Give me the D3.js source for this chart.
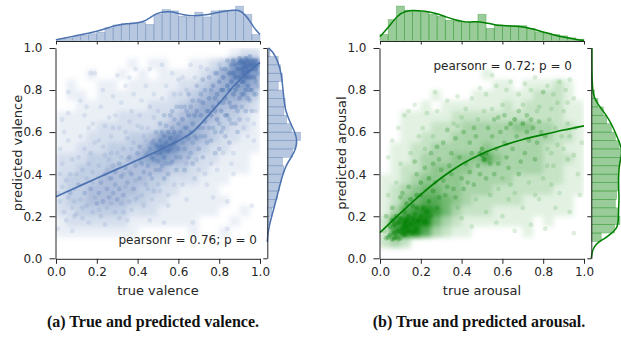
<!DOCTYPE html>
<html><head><meta charset="utf-8">
<script src="https://cdn.jsdelivr.net/npm/d3@7"></script>
<style>body{margin:0;background:#fff}svg{display:block}</style>
</head><body><svg id="c" width="621" height="339"></svg>
<script>
const tickValues=[0,0.2,0.4,0.6,0.8,1.0];
const tickLabels=["0.0","0.2","0.4","0.6","0.8","1.0"];

// ---------- valence ----------
// estimated point density (rows: predicted 1.0 -> 0.0, cols: true 0.0 -> 1.0), 0..9
const valenceGrid=[
"00000000000000000122","00000001011001123698","00010010101111235786","01001101111122345665",
"01101111111223455553","00111111122234554432","11111122222345543321","11112222223455433221",
"11122223346765432211","11222333468754322111","22233334566543221110","22333444444332211110",
"23334444433222111000","23344444332211110000","23344443322111111000","22333332221111110010",
"12222221111111000100","11111111000001001000","00000000000000000000","00000000000000000000"];
// [true, predicted, overlapping samples]
const valencePoints=[
[0.01,0.14,1],[0.02,0.27,1],[0.03,0.34,1],[0.04,0.22,1],[0.01,0.31,1],[0.03,0.45,1],[0.02,0.52,1],[0.05,0.18,1],[0.06,0.29,1],[0.07,0.40,1],[0.08,0.24,1],[0.09,0.33,1],[0.05,0.37,1],[0.08,0.47,1],[0.06,0.56,1],[0.09,0.20,1],[0.03,0.66,1],[0.06,0.69,1],[0.06,0.79,1],[0.08,0.13,1],[0.04,0.60,1],[0.07,0.31,2],[0.09,0.27,1],[0.02,0.40,1],
[0.10,0.21,1],[0.11,0.35,2],[0.12,0.75,1],[0.12,0.28,1],[0.13,0.42,1],[0.13,0.19,1],[0.14,0.31,2],[0.14,0.52,1],[0.15,0.25,1],[0.15,0.38,1],[0.16,0.45,1],[0.16,0.62,1],[0.17,0.88,1],[0.17,0.33,2],[0.18,0.22,1],[0.18,0.41,1],[0.19,0.88,1],[0.19,0.29,1],[0.19,0.55,1],[0.11,0.48,1],[0.12,0.58,1],[0.14,0.68,1],[0.16,0.17,1],[0.17,0.50,1],[0.18,0.36,1],[0.20,0.26,2],[0.13,0.24,1],[0.15,0.72,1],[0.18,0.64,1],[0.10,0.40,1],
[0.21,0.31,2],[0.21,0.44,1],[0.22,0.20,1],[0.22,0.36,2],[0.23,0.27,2],[0.23,0.53,1],[0.24,0.40,2],[0.24,0.63,1],[0.25,0.33,2],[0.25,0.24,1],[0.26,0.47,1],[0.26,0.29,2],[0.27,0.38,2],[0.27,0.58,1],[0.28,0.31,2],[0.28,0.44,1],[0.29,0.22,1],[0.29,0.35,2],[0.30,0.87,1],[0.30,0.50,1],[0.22,0.72,1],[0.24,0.16,1],[0.26,0.67,1],[0.28,0.77,1],[0.21,0.56,1],[0.25,0.42,1],[0.27,0.26,1],[0.29,0.41,2],[0.23,0.80,1],[0.26,0.38,1],[0.28,0.62,1],[0.30,0.28,2],[0.24,0.49,1],[0.21,0.23,1],[0.27,0.50,1],[0.29,0.68,1],
[0.31,0.33,2],[0.31,0.45,2],[0.32,0.26,1],[0.32,0.39,2],[0.33,0.52,1],[0.33,0.30,2],[0.34,0.43,2],[0.34,0.60,1],[0.35,0.18,1],[0.35,0.36,2],[0.36,0.48,2],[0.36,0.27,1],[0.37,0.40,2],[0.37,0.70,1],[0.38,0.33,2],[0.38,0.55,1],[0.39,0.90,1],[0.39,0.44,2],[0.40,0.29,1],[0.40,0.50,2],[0.31,0.62,1],[0.32,0.74,1],[0.33,0.22,1],[0.34,0.82,1],[0.35,0.57,1],[0.36,0.65,1],[0.37,0.23,1],[0.38,0.78,1],[0.39,0.37,1],[0.40,0.63,1],[0.32,0.48,1],[0.34,0.34,1],[0.36,0.41,1],[0.38,0.46,1],[0.33,0.40,1],[0.35,0.47,1],[0.37,0.52,1],[0.39,0.28,1],[0.31,0.19,1],[0.36,0.86,1],
[0.41,0.38,2],[0.41,0.53,2],[0.42,0.45,2],[0.42,0.30,1],[0.43,0.58,1],[0.43,0.41,2],[0.44,0.49,2],[0.44,0.35,1],[0.45,0.62,1],[0.45,0.44,2],[0.46,0.52,2],[0.46,0.90,1],[0.46,0.18,1],[0.47,0.38,2],[0.47,0.48,3],[0.48,0.56,2],[0.48,0.67,1],[0.49,0.50,3],[0.49,0.42,2],[0.50,0.53,3],[0.50,0.46,2],[0.41,0.68,1],[0.42,0.75,1],[0.43,0.25,1],[0.44,0.82,1],[0.45,0.33,1],[0.46,0.72,1],[0.47,0.28,1],[0.48,0.78,1],[0.49,0.60,2],[0.50,0.35,1],[0.42,0.62,1],[0.44,0.56,1],[0.46,0.40,2],[0.48,0.47,2],[0.49,0.54,3],[0.47,0.55,2],[0.45,0.50,2],[0.43,0.51,1],[0.50,0.70,1],[0.48,0.32,1],[0.41,0.46,1],
[0.51,0.50,4],[0.51,0.56,3],[0.52,0.53,4],[0.52,0.92,1],[0.52,0.44,2],[0.53,0.58,3],[0.53,0.17,1],[0.53,0.48,3],[0.54,0.55,4],[0.54,0.63,2],[0.55,0.51,4],[0.55,0.40,2],[0.56,0.57,4],[0.56,0.68,2],[0.57,0.54,3],[0.57,0.46,2],[0.58,0.60,3],[0.58,0.35,1],[0.59,0.56,3],[0.59,0.72,2],[0.60,0.52,2],[0.60,0.64,2],[0.51,0.64,2],[0.52,0.76,1],[0.53,0.38,2],[0.54,0.82,1],[0.55,0.30,1],[0.56,0.45,2],[0.57,0.62,2],[0.58,0.78,1],[0.59,0.42,2],[0.60,0.85,1],[0.51,0.42,2],[0.53,0.68,2],[0.55,0.60,3],[0.57,0.70,2],[0.59,0.48,2],[0.52,0.60,2],[0.54,0.45,2],[0.56,0.52,3],[0.58,0.55,3],[0.60,0.58,2],[0.55,0.25,1],[0.57,0.88,1],[0.51,0.32,1],[0.58,0.66,2],
[0.61,0.60,3],[0.61,0.48,2],[0.62,0.66,3],[0.62,0.55,2],[0.63,0.72,2],[0.63,0.42,2],[0.64,0.62,3],[0.64,0.80,1],[0.65,0.57,2],[0.65,0.68,3],[0.66,0.92,1],[0.66,0.50,2],[0.67,0.17,1],[0.67,0.64,3],[0.67,0.75,2],[0.68,0.58,2],[0.68,0.38,1],[0.69,0.70,3],[0.69,0.82,2],[0.70,0.62,2],[0.70,0.52,2],[0.61,0.72,2],[0.62,0.35,1],[0.63,0.52,2],[0.64,0.45,1],[0.65,0.78,2],[0.66,0.60,3],[0.67,0.45,2],[0.68,0.68,3],[0.69,0.57,2],[0.70,0.75,2],[0.62,0.86,1],[0.64,0.28,1],[0.66,0.72,2],[0.68,0.86,1],[0.70,0.42,1],[0.63,0.62,2],[0.65,0.48,2],[0.69,0.47,1],[0.61,0.78,1],[0.67,0.55,2],[0.64,0.70,2],
[0.71,0.91,1],[0.71,0.68,3],[0.71,0.58,2],[0.72,0.74,3],[0.72,0.48,2],[0.73,0.65,3],[0.73,0.80,2],[0.74,0.70,3],[0.74,0.55,2],[0.75,0.76,3],[0.75,0.62,2],[0.75,0.86,2],[0.76,0.68,3],[0.76,0.45,1],[0.77,0.72,3],[0.77,0.29,1],[0.77,0.82,3],[0.78,0.60,2],[0.78,0.76,3],[0.79,0.88,2],[0.79,0.66,3],[0.80,0.74,3],[0.80,0.52,2],[0.72,0.85,2],[0.73,0.40,1],[0.74,0.90,1],[0.76,0.56,2],[0.77,0.62,2],[0.78,0.50,2],[0.79,0.78,3],[0.80,0.84,3],[0.71,0.78,2],[0.73,0.58,2],[0.75,0.70,3],[0.78,0.70,3],[0.80,0.64,2],[0.72,0.62,2],[0.76,0.80,2],[0.79,0.42,1],[0.74,0.35,1],[0.78,0.88,2],[0.80,0.92,1],
[0.81,0.80,4],[0.81,0.70,3],[0.82,0.86,4],[0.82,0.62,2],[0.83,0.76,4],[0.83,0.90,3],[0.84,0.14,1],[0.84,0.27,1],[0.84,0.82,5],[0.84,0.68,3],[0.85,0.88,5],[0.85,0.74,3],[0.85,0.55,2],[0.86,0.84,5],[0.86,0.92,3],[0.86,0.64,2],[0.87,0.40,1],[0.87,0.78,4],[0.87,0.88,5],[0.88,0.86,6],[0.88,0.72,3],[0.88,0.92,4],[0.89,0.82,5],[0.89,0.60,2],[0.89,0.90,6],[0.90,0.86,6],[0.90,0.76,3],[0.81,0.90,2],[0.82,0.74,3],[0.83,0.58,2],[0.85,0.80,4],[0.86,0.72,3],[0.87,0.50,1],[0.88,0.80,4],[0.89,0.70,2],[0.90,0.66,2],[0.83,0.68,3],[0.82,0.50,1],[0.86,0.45,1],[0.84,0.94,2],[0.87,0.94,3],[0.81,0.60,2],[0.88,0.64,2],[0.90,0.93,6],[0.85,0.66,2],[0.82,0.80,4],
[0.91,0.90,7],[0.91,0.84,5],[0.91,0.94,5],[0.92,0.88,7],[0.92,0.78,3],[0.92,0.93,7],[0.93,0.86,6],[0.93,0.91,8],[0.93,0.70,2],[0.94,0.89,8],[0.94,0.94,6],[0.94,0.82,4],[0.95,0.92,8],[0.95,0.86,5],[0.95,0.75,2],[0.96,0.90,7],[0.96,0.94,5],[0.96,0.25,1],[0.96,0.80,3],[0.97,0.56,1],[0.97,0.92,6],[0.97,0.86,4],[0.98,0.90,4],[0.98,0.94,3],[0.98,0.78,2],[0.99,0.88,2],[0.99,0.92,2],[0.91,0.72,2],[0.92,0.62,1],[0.93,0.80,4],[0.94,0.66,1],[0.95,0.80,3],[0.96,0.70,2],[0.97,0.64,1],[0.98,0.84,2],[0.91,0.78,3],[0.93,0.95,4],[0.95,0.96,3],[0.92,0.84,5],[0.94,0.76,2],[0.97,0.78,2],[0.99,0.82,1],[0.90,0.95,3],[0.94,0.58,1],[0.98,0.70,1]];
const valenceFit=[[0,0.293],[0.1,0.337],[0.2,0.381],[0.3,0.424],[0.4,0.467],[0.494,0.508],[0.55,0.535],[0.608,0.563],[0.673,0.603],[0.72,0.65],[0.771,0.706],[0.82,0.76],[0.869,0.817],[0.93,0.875],[1,0.931]];
const valenceTopHist=[0.05,0.14,0.22,0.29,0.36,0.45,0.68,0.83,0.9,0.94,0.97,0.86,1.4,1.65,1.58,1.3,1.26,1.51,1.26,1.58,1.62,1.58,1.83,1.4,0.32];
const valenceTopKde=[[0,0.04],[0.08,0.22],[0.167,0.4],[0.232,0.58],[0.281,0.79],[0.346,0.9],[0.412,0.94],[0.444,1.08],[0.477,1.35],[0.51,1.51],[0.559,1.55],[0.592,1.47],[0.624,1.37],[0.673,1.31],[0.722,1.35],[0.771,1.44],[0.82,1.55],[0.869,1.62],[0.895,1.62],[0.918,1.47],[0.943,1.17],[0.967,0.72],[1.0,0.32]];
const valenceRightRange=[0,1];
const valenceRightHist=[0,0,0.03,0.05,0.16,0.37,0.58,0.79,0.94,1.1,1.31,1.2,1.99,2.25,2.62,1.91,1.52,1.31,1.41,1.26,0.86,1.2,1.05,0.86,0.21];
const valenceRightKde=[[1.0,0.08],[0.981,0.47],[0.933,0.86],[0.87,1.13],[0.822,1.2],[0.759,1.31],[0.704,1.41],[0.648,1.78],[0.601,2.17],[0.561,2.36],[0.521,2.25],[0.482,1.91],[0.442,1.47],[0.395,1.2],[0.347,0.99],[0.3,0.79],[0.252,0.58],[0.204,0.37],[0.157,0.16],[0.117,0.05],[0.078,0]];

// ---------- arousal ----------
const arousalGrid=[
"00000000000000000000","00000000000000000000","00000000001000000000","00000000000110111210",
"00000100011111122210","00001011111121222211","00111112222222222211","00111222333334433221",
"00112223333333333221","01122333334333332211","01123334446433332221","01223444433333332211",
"11234444333332222211","12345544333222222111","12456654322222111110","13678753222111111110",
"27999532111111101000","27996321100000100000","23200000000000000000","00000000000000000000"];
const arousalPoints=[
[0.27,0.79,1],[0.55,0.87,1],[0.06,0.56,1],[0.04,0.48,1],[0.12,0.68,1],[0.14,0.70,1],[0.17,0.73,1],[0.23,0.69,1],[0.28,0.70,1],[0.33,0.75,1],[0.38,0.77,1],[0.45,0.76,1],[0.49,0.81,1],[0.52,0.78,1],[0.57,0.82,1],[0.62,0.80,1],[0.64,0.84,1],[0.68,0.78,1],[0.71,0.83,1],[0.74,0.80,1],[0.76,0.86,1],[0.80,0.79,2],[0.82,0.82,1],[0.85,0.78,1],[0.88,0.84,1],[0.91,0.80,1],[0.93,0.85,1],[0.95,0.76,1],[0.87,0.74,1],[0.78,0.72,1],[0.60,0.73,1],[0.42,0.71,1],[0.09,0.62,1],[0.19,0.58,1],
[0.95,0.12,1],[0.93,0.22,1],[0.86,0.24,1],[0.81,0.14,1],[0.74,0.16,1],[0.66,0.13,1],[0.60,0.20,1],[0.57,0.17,1],[0.52,0.22,1],[0.45,0.15,1],[0.40,0.19,1],[0.70,0.24,1],[0.78,0.28,1],[0.88,0.31,1],[0.97,0.40,1],[0.99,0.55,1],[0.96,0.62,1],[0.92,0.47,1],[0.84,0.35,1],[0.63,0.28,1],[0.98,0.30,1],
[0.30,0.42,2],[0.35,0.50,2],[0.40,0.38,2],[0.44,0.55,2],[0.48,0.44,2],[0.50,0.49,4],[0.51,0.47,4],[0.50,0.52,3],[0.49,0.50,3],[0.52,0.50,3],[0.55,0.58,2],[0.58,0.45,2],[0.62,0.62,2],[0.65,0.52,2],[0.68,0.40,2],[0.70,0.64,3],[0.73,0.56,2],[0.76,0.47,2],[0.79,0.60,2],[0.82,0.52,1],[0.85,0.44,1],[0.89,0.58,1],[0.33,0.61,2],[0.38,0.63,1],[0.42,0.45,2],[0.46,0.62,2],[0.56,0.66,2],[0.60,0.38,1],[0.66,0.66,3],[0.72,0.68,2],[0.75,0.62,2],[0.25,0.50,2],[0.22,0.43,2],[0.27,0.36,2],[0.18,0.40,2],[0.14,0.34,2],[0.10,0.29,2],[0.08,0.36,1],[0.20,0.30,3],[0.24,0.27,3],[0.16,0.25,3],[0.12,0.22,3],[0.28,0.24,2],[0.32,0.30,2],[0.36,0.33,2],[0.56,0.40,2],[0.62,0.48,2],[0.64,0.35,1],[0.71,0.50,2],[0.80,0.38,1],[0.86,0.62,1],[0.92,0.64,1],[0.54,0.30,1],[0.47,0.28,1],[0.38,0.24,1],
[0.22,0.52,1],[0.26,0.58,1],[0.29,0.47,2],[0.31,0.55,2],[0.34,0.44,2],[0.37,0.57,2],[0.39,0.48,2],[0.41,0.60,2],[0.43,0.36,2],[0.45,0.50,2],[0.47,0.58,2],[0.49,0.40,2],[0.53,0.62,2],[0.54,0.45,2],[0.57,0.52,2],[0.59,0.60,2],[0.61,0.55,2],[0.63,0.43,2],[0.64,0.64,3],[0.67,0.58,2],[0.69,0.46,2],[0.72,0.60,2],[0.74,0.66,2],[0.77,0.55,2],[0.78,0.65,2],[0.81,0.58,2],[0.83,0.66,1],[0.84,0.50,1],[0.87,0.54,1],[0.90,0.52,1],[0.93,0.58,1],[0.95,0.49,1],[0.24,0.38,3],[0.26,0.32,3],[0.29,0.29,2],[0.31,0.37,2],[0.33,0.34,2],[0.35,0.40,2],[0.37,0.29,2],[0.41,0.33,2],[0.44,0.41,2],[0.46,0.35,2],[0.52,0.38,2],[0.58,0.33,1],[0.66,0.31,1],[0.73,0.36,1],[0.76,0.30,1],[0.82,0.44,1],[0.18,0.30,3],[0.20,0.36,3],[0.15,0.28,3],[0.13,0.26,3],[0.11,0.31,2],[0.17,0.46,2],[0.15,0.50,1],[0.21,0.62,1],[0.10,0.45,1],[0.26,0.45,2],[0.28,0.53,2],[0.36,0.64,1],[0.40,0.67,1],[0.48,0.66,1],[0.51,0.70,1],[0.55,0.71,1],[0.58,0.67,2],[0.61,0.68,2],[0.68,0.70,2],[0.70,0.73,1],[0.77,0.70,1],[0.84,0.71,1],[0.90,0.70,1],[0.92,0.74,1],
[0.05,0.15,3],[0.07,0.12,3],[0.09,0.17,4],[0.11,0.14,4],[0.13,0.18,4],[0.15,0.16,4],[0.08,0.20,3],[0.12,0.11,3],[0.17,0.21,3],[0.19,0.18,3],[0.04,0.10,3],[0.06,0.09,3],[0.08,0.10,3],[0.10,0.095,2],[0.03,0.095,2],[0.21,0.24,3],[0.14,0.13,3],[0.16,0.12,2],[0.18,0.14,2],[0.22,0.17,2],[0.25,0.20,2],[0.06,0.24,2],[0.04,0.30,1],[0.03,0.20,2],[0.02,0.13,1],
[0.07,0.16,4],[0.10,0.19,4],[0.12,0.16,4],[0.14,0.20,4],[0.16,0.19,3],[0.09,0.13,4],[0.11,0.12,3],[0.06,0.18,3],[0.18,0.24,3],[0.20,0.20,3],[0.23,0.22,3],[0.05,0.11,3],[0.07,0.095,3],[0.09,0.09,2],[0.13,0.15,4]];
const arousalFit=[[0,0.122],[0.1,0.215],[0.2,0.303],[0.3,0.382],[0.4,0.447],[0.5,0.497],[0.6,0.535],[0.7,0.565],[0.8,0.588],[0.9,0.61],[1,0.63]];
const arousalTopHist=[0.36,1.25,2.06,1.81,1.77,1.69,1.57,1.45,1.21,1.17,1.09,1.09,1.57,0.73,0.93,0.89,0.89,0.89,0.73,0.52,0.44,0.36,0.28,0.16,0.08];
const arousalTopKde=[[0,0.24],[0.044,0.81],[0.085,1.51],[0.126,1.77],[0.167,1.81],[0.208,1.77],[0.248,1.69],[0.289,1.57],[0.322,1.41],[0.363,1.25],[0.404,1.13],[0.444,1.09],[0.48,1.15],[0.521,1.05],[0.562,0.93],[0.603,0.89],[0.641,0.87],[0.681,0.85],[0.722,0.77],[0.763,0.65],[0.804,0.48],[0.846,0.36],[0.886,0.24],[0.926,0.14],[0.964,0.06],[1.0,0.0]];
const arousalRightRange=[0.08,0.88];
const arousalRightHist=[0.64,1.5,1.85,1.72,1.55,1.63,1.72,1.72,1.76,1.85,1.93,1.8,1.55,1.29,0.99,0.77,0.43,0.21,0.09,0.04];
const arousalRightKde=[[1.0,0.04],[0.87,0.04],[0.775,0.09],[0.735,0.39],[0.696,0.82],[0.653,1.2],[0.613,1.46],[0.569,1.72],[0.529,1.93],[0.506,1.97],[0.482,1.93],[0.442,1.8],[0.395,1.76],[0.331,1.76],[0.284,1.8],[0.244,1.76],[0.204,1.76],[0.165,1.72],[0.141,1.63],[0.117,1.29],[0.094,0.86],[0.078,0.47],[0.054,0.17],[0.03,0.06],[0.0,0]];

const AX="#262626";
const svg=d3.select("#c");
const defs=svg.append("defs");

function styleAxis(a){
  a.attr("font-size",12).attr("font-family","DejaVu Sans");
  a.selectAll("path,line").attr("stroke",AX).attr("stroke-width",1);
  a.selectAll("text").attr("fill",AX);
}

function panel(o){
  const x=d3.scaleLinear().domain([0,1]).range([o.x0,o.x0+204]);
  const y=d3.scaleLinear().domain([0,1]).range([258.3,48]);
  defs.append("clipPath").attr("id","cp"+o.id).append("rect")
    .attr("x",x(0)).attr("y",y(1)).attr("width",x(1)-x(0)).attr("height",y(0)-y(1));
  defs.append("filter").attr("id","bl"+o.id).attr("x",-0.2).attr("y",-0.2).attr("width",1.4).attr("height",1.4)
    .append("feGaussianBlur").attr("stdDeviation",2.8);
  const clipG=svg.append("g").attr("clip-path",`url(#cp${o.id})`);
  const nr=o.grid.length,nc=o.grid[0].length;
  const cells=[];
  o.grid.forEach((row,r)=>row.split("").forEach((ch,c)=>{if(+ch>0)cells.push({r,c,v:+ch});}));
  clipG.append("g").attr("filter",`url(#bl${o.id})`).selectAll("rect").data(cells).join("rect")
    .attr("x",d=>x(d.c/nc)).attr("y",d=>y(1-d.r/nr))
    .attr("width",x(1/nc)-x(0)).attr("height",y(0)-y(1/nr))
    .attr("fill",o.color).attr("fill-opacity",d=>Math.min(0.95,d.v*o.gridK));
  clipG.append("g").selectAll("circle").data(o.points).join("circle")
    .attr("cx",d=>x(d[0])).attr("cy",d=>y(d[1])).attr("r",2.4)
    .attr("fill",o.color).attr("fill-opacity",d=>1-Math.pow(0.87,d[2]));
  svg.append("path").datum(o.fit)
    .attr("d",d3.line().x(d=>x(d[0])).y(d=>y(d[1])).curve(d3.curveMonotoneX))
    .attr("fill","none").attr("stroke",o.lineColor).attr("stroke-width",1.7);

  const fmt=(d,i)=>tickLabels[i];
  styleAxis(svg.append("g").attr("transform",`translate(${x(0)-0.5},0)`)
    .call(d3.axisLeft(y).tickValues(tickValues).tickFormat(fmt).tickSize(6).tickSizeOuter(0).tickPadding(7)));
  styleAxis(svg.append("g").attr("transform",`translate(0,${y(0)+0.5})`)
    .call(d3.axisBottom(x).tickValues(tickValues).tickFormat(fmt).tickSize(5).tickSizeOuter(0).tickPadding(3.5)));

  // top marginal
  const ty=d3.scaleLinear().domain([0,o.topMax]).range([40.5,0]);
  const nb=o.topHist.length;
  svg.append("g").selectAll("rect").data(o.topHist).join("rect")
    .attr("x",(d,i)=>x(i/nb)).attr("width",x(1/nb)-x(0)).attr("y",d=>ty(d)).attr("height",d=>ty(0)-ty(d))
    .attr("fill",o.color).attr("fill-opacity",0.4).attr("stroke",o.color).attr("stroke-opacity",0.35).attr("stroke-width",0.7);
  svg.append("path").datum(o.topKde)
    .attr("d",d3.line().x(d=>x(d[0])).y(d=>ty(d[1])).curve(d3.curveBasis))
    .attr("fill","none").attr("stroke",o.lineColor).attr("stroke-width",1.5);
  styleAxis(svg.append("g").attr("transform","translate(0,41)")
    .call(d3.axisBottom(x).tickValues(tickValues).tickFormat("").tickSize(3.5).tickSizeOuter(0)));

  // right marginal
  const rx=d3.scaleLinear().domain([0,o.rightMax]).range([o.mx,o.mx+40]);
  const rn=o.rightHist.length,lo=o.rightRange[0],bw=(o.rightRange[1]-lo)/rn;
  svg.append("g").selectAll("rect").data(o.rightHist).join("rect")
    .attr("x",rx(0)).attr("width",d=>rx(d)-rx(0))
    .attr("y",(d,i)=>y(lo+(i+1)*bw)).attr("height",(d,i)=>y(lo+i*bw)-y(lo+(i+1)*bw))
    .attr("fill",o.color).attr("fill-opacity",0.4).attr("stroke",o.color).attr("stroke-opacity",0.35).attr("stroke-width",0.7);
  svg.append("path").datum(o.rightKde)
    .attr("d",d3.line().x(d=>rx(d[1])).y(d=>y(d[0])).curve(d3.curveBasis))
    .attr("fill","none").attr("stroke",o.lineColor).attr("stroke-width",1.5);
  styleAxis(svg.append("g").attr("transform",`translate(${o.mx},0)`)
    .call(d3.axisLeft(y).tickValues(tickValues).tickFormat("").tickSize(4).tickSizeOuter(0)));

  // texts
  svg.append("text").attr("x",o.statX).attr("y",o.statY).attr("text-anchor","end")
    .attr("font-family","DejaVu Sans").attr("font-size",12).attr("fill",AX).text(o.stat);
  svg.append("text").attr("x",(x(0)+x(1))/2).attr("y",295).attr("text-anchor","middle")
    .attr("font-family","DejaVu Sans").attr("font-size",13).attr("fill",AX).text(o.xLabel);
  svg.append("text").attr("transform",`translate(${x(0)-39},153) rotate(-90)`).attr("dy","0.35em").attr("text-anchor","middle")
    .attr("font-family","DejaVu Sans").attr("font-size",13).attr("fill",AX).text(o.yLabel);
  svg.append("text").attr("x",o.capX).attr("y",327).attr("text-anchor","middle")
    .attr("font-family","Liberation Serif").attr("font-weight","bold").attr("font-size",16).attr("fill","#111").text(o.caption);
}

panel({id:"v",x0:56,mx:267.3,color:"#4C72B0",lineColor:"#4C72B0",grid:valenceGrid,gridK:0.115,points:valencePoints,fit:valenceFit,
  topHist:valenceTopHist,topKde:valenceTopKde,topMax:2.16,rightHist:valenceRightHist,rightRange:valenceRightRange,rightKde:valenceRightKde,rightMax:3.15,
  stat:"pearsonr = 0.76; p = 0",statX:257,statY:244,xLabel:"true valence",yLabel:"predicted valence",caption:"(a) True and predicted valence.",capX:153});
panel({id:"a",x0:380,mx:591.3,color:"#008000",lineColor:"#008000",grid:arousalGrid,gridK:0.112,points:arousalPoints,fit:arousalFit,
  topHist:arousalTopHist,topKde:arousalTopKde,topMax:2.42,rightHist:arousalRightHist,rightRange:arousalRightRange,rightKde:arousalRightKde,rightMax:2.58,
  stat:"pearsonr = 0.72; p = 0",statX:572,statY:70,xLabel:"true arousal",yLabel:"predicted arousal",caption:"(b) True and predicted arousal.",capX:479});
</script></body></html>
